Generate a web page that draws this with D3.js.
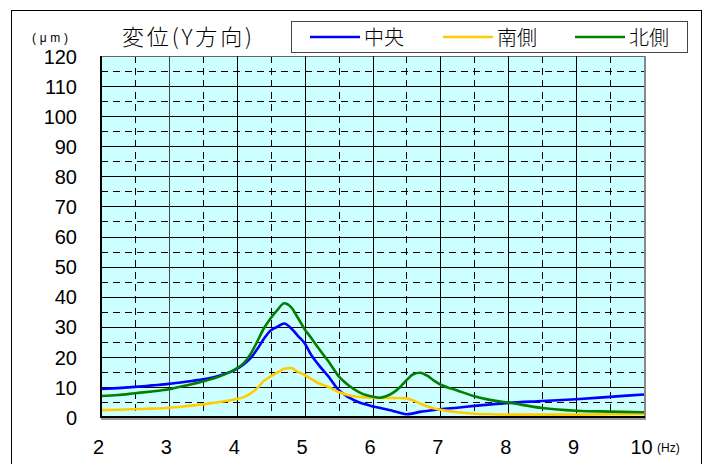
<!DOCTYPE html>
<html><head><meta charset="utf-8">
<script src="https://cdn.jsdelivr.net/npm/d3@7"></script>
<style>body{margin:0;background:#fff}svg{display:block}</style>
</head><body>
<script>
const hz = [2,2.25,2.5,2.75,3,3.25,3.5,3.75,4,4.1,4.2,4.3,4.4,4.5,4.6,4.7,4.8,4.9,5,5.1,5.2,5.35,5.5,5.65,5.8,5.9,6,6.1,6.2,6.3,6.4,6.5,6.6,6.7,6.8,6.9,7,7.25,7.5,7.75,8,8.5,9,9.5,10];
const center = [9.3,9.6,10.0,10.5,11.0,11.7,12.5,13.8,16.0,17.5,19.5,22.5,26.0,28.8,30.0,31.1,29.5,27.0,24.5,20.5,17.5,13.5,9.0,6.5,4.9,4.2,3.5,3.1,2.6,2.0,1.4,0.9,1.2,1.7,2.0,2.3,2.6,3.1,3.7,4.2,4.7,5.3,5.9,6.7,7.5];
const south = [2.3,2.4,2.6,2.8,3.1,3.6,4.2,5.0,6.0,6.6,7.8,9.5,12.0,13.5,14.8,16.0,16.3,15.0,14.0,12.6,11.3,10.0,8.3,7.2,6.7,6.5,6.4,6.3,6.3,6.3,6.3,6.2,5.5,4.5,3.6,2.9,2.4,1.6,1.1,0.9,0.8,0.8,0.8,0.9,1.0];
const north = [7.0,7.3,7.9,8.5,9.2,10.5,11.8,13.5,16.2,17.8,20.8,25.0,29.5,32.8,35.6,37.8,36.5,33.0,29.2,26.2,23.0,18.5,13.6,10.5,8.3,7.3,6.8,6.4,6.9,8.0,9.8,12.2,14.2,14.7,13.8,12.2,10.8,8.8,6.9,5.6,4.8,3.0,2.1,1.8,1.6];
const seriesNames = ["中央","南側","北側"];
const seriesColors = ["#0000ff","#ffcc00","#008000"];
const xTicks = [2,3,4,5,6,7,8,9,10];
const yTicks = [0,10,20,30,40,50,60,70,80,90,100,110,120];
const titleText = "変位(Y方向)";
const yUnit = "(μm)";
const xUnit = "(Hz)";

const W = 707, H = 464;
const L = 101, R = 644, T = 56, B = 417;
const svg = d3.select("body").append("svg").attr("width", W).attr("height", H);
const x = d3.scaleLinear().domain([2,10]).range([L,R]);
const y = d3.scaleLinear().domain([0,120]).range([B,T]);
const cjk = "'Noto Sans CJK JP', sans-serif";
const lat = "'Liberation Sans', Arial, sans-serif";

svg.append("rect").attr("x",11.5).attr("y",10.5).attr("width",690).attr("height",480)
  .attr("fill","#fff").attr("stroke","#000").attr("stroke-width",1);

svg.append("rect").attr("x",L).attr("y",T).attr("width",R-L).attr("height",B-T).attr("fill","#ccffff");

const g = svg.append("g");
d3.range(5,120,10).forEach(v=>{
  g.append("line").attr("x1",L).attr("x2",R).attr("y1",Math.round(y(v))+0.5).attr("y2",Math.round(y(v))+0.5)
   .attr("stroke","#000").attr("stroke-width",1).attr("stroke-dasharray","7,5");
});
d3.range(2.5,10,1).forEach(v=>{
  g.append("line").attr("y1",T).attr("y2",B).attr("x1",Math.round(x(v))+0.5).attr("x2",Math.round(x(v))+0.5)
   .attr("stroke","#000").attr("stroke-width",1).attr("stroke-dasharray","7,5");
});
yTicks.filter(v=>v>0).forEach(v=>{
  g.append("line").attr("x1",L).attr("x2",R).attr("y1",Math.round(y(v))+0.5).attr("y2",Math.round(y(v))+0.5)
   .attr("stroke",v===120?"#666":"#000").attr("stroke-width",1);
});
xTicks.filter(v=>v>2 && v<10).forEach(v=>{
  g.append("line").attr("y1",T).attr("y2",B).attr("x1",Math.round(x(v))+0.5).attr("x2",Math.round(x(v))+0.5)
   .attr("stroke",v===3?"#444":"#000").attr("stroke-width",1);
});
svg.append("line").attr("x1",R+1).attr("x2",R+1).attr("y1",T).attr("y2",B+2).attr("stroke","#888").attr("stroke-width",2);
svg.append("line").attr("x1",L).attr("x2",R+2).attr("y1",B+2).attr("y2",B+2).attr("stroke","#999").attr("stroke-width",2);

const sets = [center, south, north];
const line = d3.line().x((d,i)=>x(hz[i])).y(d=>y(d)).curve(d3.curveMonotoneX);
sets.forEach((s,k)=>{
  svg.append("path").datum(s).attr("d",line).attr("fill","none")
    .attr("stroke",seriesColors[k]).attr("stroke-width",2.6).attr("stroke-linejoin","round");
});

svg.append("line").attr("x1",L).attr("x2",L).attr("y1",T).attr("y2",B+1).attr("stroke","#000").attr("stroke-width",2);
svg.append("line").attr("x1",L-1).attr("x2",R+1).attr("y1",B).attr("y2",B).attr("stroke","#000").attr("stroke-width",2);

const yAxis = d3.axisLeft(y).tickValues(yTicks).tickSize(0).tickPadding(0);
const ya = svg.append("g").attr("transform",`translate(77,0)`).call(yAxis);
ya.select(".domain").remove();
ya.selectAll("text").attr("font-family",lat).attr("font-size",20)
  .attr("fill","#000").attr("dy","0.36em");

const xAxis = d3.axisBottom(x).tickValues(xTicks).tickSize(0).tickPadding(0);
const xa = svg.append("g").attr("transform",`translate(-3,${B})`).call(xAxis);
xa.select(".domain").remove();
xa.selectAll("text").attr("font-family",lat).attr("font-size",20)
  .attr("fill","#000").attr("dy",null).attr("y",37);

svg.append("text").attr("x",657).attr("y",452).text(xUnit)
  .attr("font-family",lat).attr("font-size",12).attr("fill","#000");
svg.append("text").attr("x",32).attr("y",42).text(yUnit).attr("textLength",36).attr("lengthAdjust","spacing")
  .attr("font-family",lat).attr("font-size",12).attr("fill","#000");

svg.append("text").attr("x",122).attr("y",45).text(titleText).attr("textLength",130).attr("lengthAdjust","spacing")
  .attr("font-family",cjk).attr("font-weight",300).attr("font-size",22).attr("fill","#000");

svg.append("rect").attr("x",291.5).attr("y",21.5).attr("width",396).attr("height",31)
  .attr("fill","#fff").attr("stroke","#444").attr("stroke-width",1);
const legX = [310, 443, 575];
seriesNames.forEach((n,k)=>{
  svg.append("line").attr("x1",legX[k]).attr("x2",legX[k]+50).attr("y1",37).attr("y2",37)
    .attr("stroke",seriesColors[k]).attr("stroke-width",2.6);
  svg.append("text").attr("x",legX[k]+54).attr("y",45).text(n)
    .attr("font-family",cjk).attr("font-weight",300).attr("font-size",20).attr("fill","#000");
});
</script>
</body></html>
